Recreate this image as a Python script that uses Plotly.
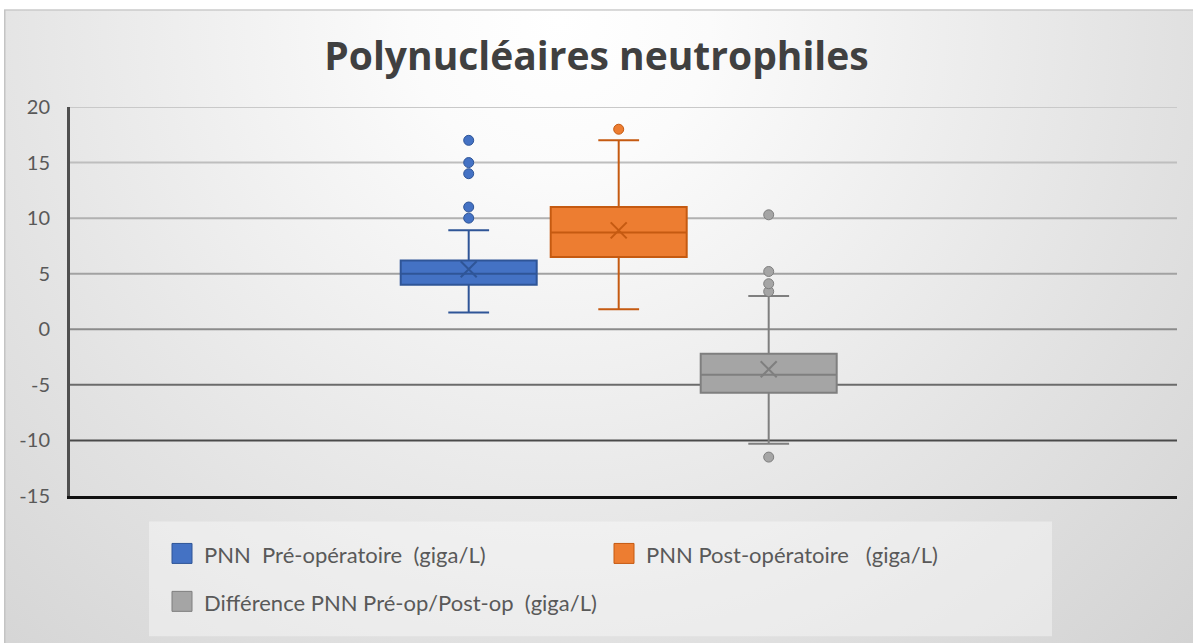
import base64
import plotly.graph_objects as go

# ---- data (giga/L) ----
series = ["PNN  Pré-opératoire  (giga/L)",
          "PNN Post-opératoire   (giga/L)",
          "Différence PNN Pré-op/Post-op  (giga/L)"]
q1 = [4.0, 6.5, -5.7]
median = [5.0, 8.7, -4.1]
q3 = [6.2, 11.0, -2.2]
lower_whisker = [1.5, 1.8, -10.3]
upper_whisker = [8.9, 17.0, 3.0]
means = [5.4, 8.9, -3.6]
outliers = [[10, 11, 14, 15, 17],
            [18],
            [3.4, 4.1, 5.2, 10.3, -11.5]]
y_ticks = [-15, -10, -5, 0, 5, 10, 15, 20]

fills = ["#4472C4", "#ED7D31", "#A5A5A5"]
edges = ["#2F5597", "#C55A11", "#7F7F7F"]
grid_colors = {20: "#c9c9c9", 15: "#bebebe", 10: "#b1b1b1", 5: "#a2a2a2",
               0: "#8b8b8b", -5: "#6b6b6b", -10: "#4a4a4a"}

W, H = 1193, 643
ML, MR, MT, MB = 70, 16, 107, 146.5
PW, PH = W - ML - MR, H - MT - MB
FONT = "Lato"
TXT = "#595959"


def px_x(px):
    return (px - ML) / PW


def px_y(py):
    return (H - MB - py) / PH


# box centres 150 px apart, first at 468.7 px
unit = 150.0
x0_px = 468.7
x_range = [(ML - x0_px) / unit, (W - MR - x0_px) / unit]

fig = go.Figure()
for i, name in enumerate(series):
    fig.add_trace(go.Box(
        x=[i], q1=[q1[i]], median=[median[i]], q3=[q3[i]],
        lowerfence=[lower_whisker[i]], upperfence=[upper_whisker[i]],
        width=136 / unit, whiskerwidth=0.3,
        fillcolor=fills[i], line=dict(color=edges[i], width=2),
        boxpoints=False, name=name, showlegend=False, hoverinfo="skip"))
    fig.add_trace(go.Scatter(
        x=[i] * len(outliers[i]), y=outliers[i], mode="markers",
        marker=dict(size=10, color=fills[i], line=dict(color=edges[i], width=1)),
        showlegend=False, hoverinfo="skip"))
    fig.add_trace(go.Scatter(
        x=[i], y=[means[i]], mode="markers",
        marker=dict(symbol="x-thin", size=16, line=dict(color=edges[i], width=2)),
        showlegend=False, hoverinfo="skip"))

# gridlines with progressively darker tone
shapes = []
for v in y_ticks:
    if v in grid_colors:
        shapes.append(dict(type="line", xref="paper", yref="y", x0=0, x1=1, y0=v, y1=v,
                           line=dict(color=grid_colors[v], width=2), layer="below"))

# legend panel
shapes.append(dict(type="rect", xref="paper", yref="paper",
                   x0=px_x(149), x1=px_x(1052), y0=px_y(637), y1=px_y(522),
                   fillcolor="rgba(255,255,255,0.38)", line=dict(width=0), layer="below"))

annotations = []
legend_pos = [(172, 544), (614, 544), (172, 592)]
for i, name in enumerate(series):
    sx, sy = legend_pos[i]
    shapes.append(dict(type="rect", xref="paper", yref="paper",
                       x0=px_x(sx), x1=px_x(sx + 20), y0=px_y(sy + 20), y1=px_y(sy),
                       fillcolor=fills[i], line=dict(color=edges[i], width=1)))
    annotations.append(dict(xref="paper", yref="paper", x=px_x(sx + 30), y=px_y(sy + 11),
                            xanchor="left", yanchor="middle", showarrow=False,
                            text=name.replace("   ", "\u00a0\u00a0\u00a0").replace("  ", "\u00a0\u00a0"),
                            font=dict(family=FONT, size=22, color=TXT)))

# background panel with soft radial shading
svg = f'''<svg xmlns="http://www.w3.org/2000/svg" width="1200" height="640" viewBox="0 0 1200 640" preserveAspectRatio="none">
<defs><radialGradient id="g" gradientUnits="userSpaceOnUse" cx="556" cy="12" r="1000">
<stop offset="0" stop-color="#ffffff"/>
<stop offset="0.15" stop-color="#fbfbfb"/>
<stop offset="0.6" stop-color="#e2e2e2"/>
<stop offset="1" stop-color="#cdcdcd"/>
</radialGradient></defs>
<rect x="0.75" y="0.75" width="1210" height="650" fill="url(#g)" stroke="#c4c4c4" stroke-width="1.5"/>
</svg>'''
src = "data:image/svg+xml;base64," + base64.b64encode(svg.encode()).decode()

fig.update_layout(
    width=W, height=H,
    margin=dict(l=ML, r=MR, t=MT, b=MB, pad=0),
    paper_bgcolor="white", plot_bgcolor="rgba(0,0,0,0)",
    images=[dict(source=src, xref="paper", yref="paper",
                 x=px_x(4), y=px_y(9), sizex=1200 / PW, sizey=640 / PH,
                 xanchor="left", yanchor="top", sizing="stretch", layer="below")],
    title=dict(text="<b>Polynucléaires neutrophiles</b>", x=0.5, xanchor="center",
               y=1 - 56 / H, yanchor="middle", yref="container",
               font=dict(family="Open Sans", size=39, color="#404040")),
    showlegend=False,
    shapes=shapes,
    annotations=annotations,
    xaxis=dict(range=x_range, showticklabels=False, showgrid=False, zeroline=False,
               showline=True, linecolor="#111111", linewidth=2.5, ticks=""),
    yaxis=dict(range=[-15, 20], tickvals=y_ticks, ticktext=[str(v) for v in y_ticks],
               showgrid=False, zeroline=False, showline=True, linecolor="#4f4f4f",
               linewidth=3, ticks="outside", ticklen=13, tickcolor="rgba(0,0,0,0)",
               tickfont=dict(family=FONT, size=20, color=TXT)),
)

fig.write_html("out.html")
